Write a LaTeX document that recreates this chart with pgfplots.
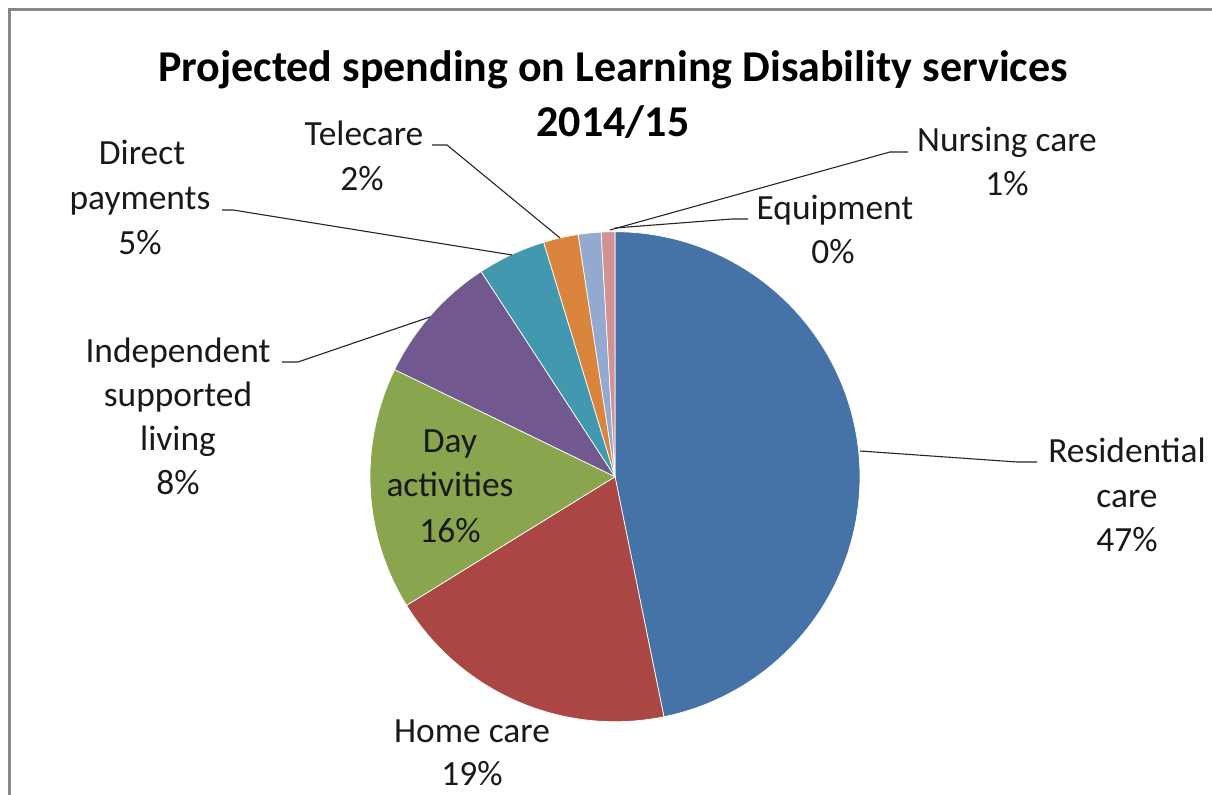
\documentclass[border=0pt]{standalone}
\usepackage{fontspec}
\setmainfont{Carlito}
\usepackage{pgfplots}
\usepackage{pgfplotstable}
\pgfplotsset{compat=1.18}

\definecolor{cRes}{HTML}{4572A7}
\definecolor{cHome}{HTML}{AA4643}
\definecolor{cDay}{HTML}{89A54E}
\definecolor{cISL}{HTML}{71588F}
\definecolor{cDir}{HTML}{4198AF}
\definecolor{cTele}{HTML}{DB843D}
\definecolor{cNurs}{HTML}{93A9CF}
\definecolor{cEq}{HTML}{D19392}
\definecolor{frame}{HTML}{878787}

% share of spending (percent), clockwise from 12 o'clock
\pgfplotstableread{
name value col
Residential 46.8 cRes
Home 19.4 cHome
Day 16.0 cDay
ISL 8.6 cISL
Direct 4.5 cDir
Telecare 2.3 cTele
Nursing 1.5 cNurs
Equipment 0.9 cEq
}\piedata

\newcommand\lbl{\fontsize{17.7bp}{21.6bp}\selectfont}
\newcommand\ttl{\fontsize{22.0bp}{27.0bp}\selectfont\bfseries}

\begin{document}
\begin{tikzpicture}
\begin{axis}[
  name=main,
  width=606bp, height=397.5bp, scale only axis,
  xmin=0, xmax=1212, ymin=0, ymax=795,
  hide axis, clip=false,
]
\fill[white] (axis cs:0,0) rectangle (axis cs:1212,795);
% frame
\draw[frame, line width=1.6bp] (axis cs:9.5,0) -- (axis cs:9.5,785.5) -- (axis cs:1212,785.5);

% pie slices
\def\cum{0}
\pgfplotsforeachungrouped \i in {0,...,7}{%
  \pgfplotstablegetelem{\i}{value}\of\piedata \let\val\pgfplotsretval
  \pgfplotstablegetelem{\i}{col}\of\piedata \let\col\pgfplotsretval
  \pgfmathsetmacro\nxt{\cum+\val}%
  \edef\tmp{\noexpand\addplot[fill=\col, draw=white, line width=0.35pt,
      domain=\cum:\nxt, samples=90, variable=\noexpand\t]
     ({615+245*sin(3.6*\noexpand\t)}, {318.3+245*cos(3.6*\noexpand\t)})
     -- (axis cs:615,318.3) -- cycle;}%
  \tmp
  \let\cum\nxt
}

% title
\node[font=\ttl, anchor=base] at (axis cs:613,713) {Projected spending on Learning Disability services};
\node[font=\ttl, anchor=base] at (axis cs:613,658) {2014/15};

% leader lines
\begin{scope}[line width=0.55bp, black!85]
\draw (axis cs:610,565) -- (axis cs:890,643) -- (axis cs:908,643);
\draw (axis cs:615,567) -- (axis cs:732,576) -- (axis cs:748,576);
\draw (axis cs:560,557) -- (axis cs:447,650) -- (axis cs:432,650);
\draw (axis cs:512,540) -- (axis cs:233,585) -- (axis cs:222,585);
\draw (axis cs:430,478) -- (axis cs:298,433) -- (axis cs:282,433);
\draw (axis cs:860,344) -- (axis cs:1017,333) -- (axis cs:1037,333);
\end{scope}

% labels
\begin{scope}[every node/.style={font=\lbl, anchor=base, inner sep=0pt, text=black!90}]
\node at (axis cs:1007,643) {Nursing care};
\node at (axis cs:1007,599) {1\%};
\node at (axis cs:835,575) {Equipment};
\node at (axis cs:833,531) {0\%};
\node at (axis cs:364,649) {Telecare};
\node at (axis cs:362,604) {2\%};
\node at (axis cs:142,630) {Direct};
\node at (axis cs:140,585) {payments};
\node at (axis cs:140,540) {5\%};
\node at (axis cs:178,432) {Independent};
\node at (axis cs:178,388) {supported};
\node at (axis cs:178,344) {living};
\node at (axis cs:178,300) {8\%};
\node at (axis cs:450,342) {Day};
\node at (axis cs:450,298) {activities};
\node at (axis cs:450,252) {16\%};
\node at (axis cs:1127,332) {Residential};
\node at (axis cs:1127,287) {care};
\node at (axis cs:1127,243) {47\%};
\node at (axis cs:472,53) {Home care};
\node at (axis cs:472,10) {19\%};
\end{scope}
\end{axis}
\pgfresetboundingbox
\path (main.south west) rectangle (main.north east);
\end{tikzpicture}
\end{document}
